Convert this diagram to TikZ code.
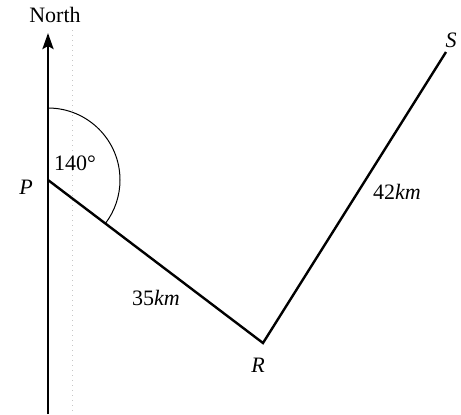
\documentclass[tikz,border=0pt]{standalone}
\usepackage{fontspec}
\setmainfont{Liberation Serif}
\usetikzlibrary{positioning, arrows.meta, calc}

\begin{document}
\begin{tikzpicture}[
			x=0.5pt, y=-0.5pt,
			route/.style={line width=1.2pt, line join=miter},
			north/.style={-{Stealth[length=8pt, width=5.5pt, inset=1.5pt]}, line width=1.4pt},
			bearing/.style={line width=0.5pt},
			scanline/.style={gray!45, dotted, line width=0.5pt},
			label/.style={font=\fontsize{11}{13}\selectfont, inner sep=1pt}
			]
			\useasboundingbox (0,0) rectangle (461,414);
			
			% Points
			\coordinate (P) at (48,180);
			\coordinate (R) at (263,343);
			\coordinate (S) at (446,52);
			\coordinate (base) at (48,414);
			\coordinate (top) at (48,33);
			
			% Faint guide line
			\draw[scanline] (72,30) -- (72,414);
			
			% North line
			\draw[north] (base) -- (top);
			\node[label] (north) at (55,15) {North};
			
			% Route
			\draw[route] (P) -- (R) -- (S);
			
			% Bearing arc
			\draw[bearing] ($(P)+(0,-72)$) arc[start angle=-90, end angle=37.2, radius=72];
			
			% Labels
			\node[label] (lP) at (26,187) {\textit{P}};
			\node[label] (lR) at (258,365) {\textit{R}};
			\node[label] (lS) at (451,40) {\textit{S}};
			\node[label] (ang) at (75,163) {140°};
			\node[label] (dPR) at (156,298) {35\textit{km}};
			\node[label] (dRS) at (397,192) {42\textit{km}};
			
		\end{tikzpicture}
\end{document}
